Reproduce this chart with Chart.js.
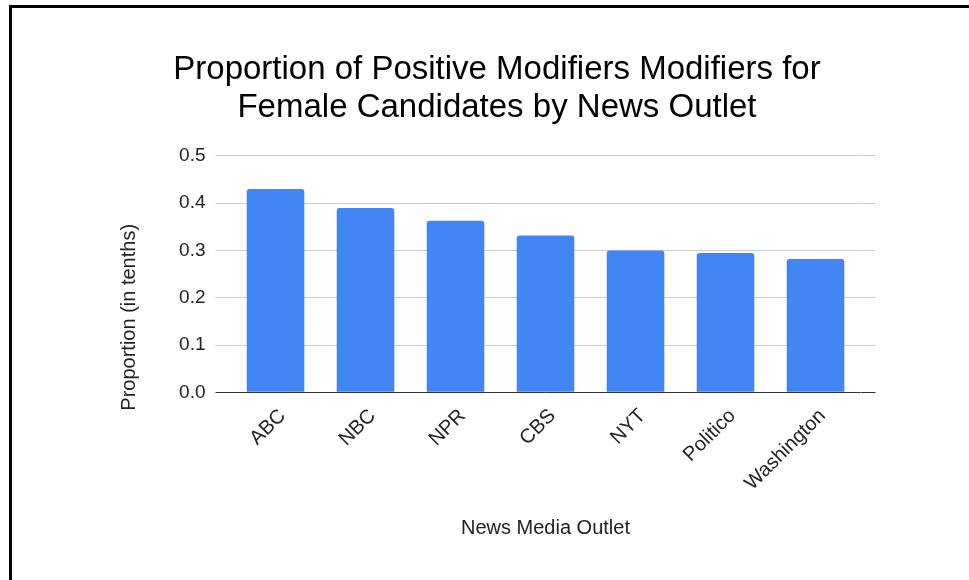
<!DOCTYPE html>
<html><head><meta charset="utf-8">
<script src="https://cdn.jsdelivr.net/npm/chart.js@4.4.0/dist/chart.umd.min.js"></script>
<style>
html,body{margin:0;padding:0;background:#fff;overflow:hidden;}
#wrap{position:absolute;left:0;top:0;width:969px;height:580px;overflow:hidden;}
#frame{position:absolute;left:9px;top:5px;width:980px;height:600px;border-left:3px solid #000;border-top:3px solid #000;box-sizing:border-box;pointer-events:none;}
canvas{position:absolute;left:0;top:0;}
</style></head><body>
<div id="wrap"><canvas id="c" width="969" height="580"></canvas><div id="frame"></div></div>
<script>
const categories = ['ABC', 'NBC', 'NPR', 'CBS', 'NYT', 'Politico', 'Washington'];
const proportions = [0.43, 0.39, 0.363, 0.332, 0.30, 0.295, 0.282];
const yTickValues = [0, 0.1, 0.2, 0.3, 0.4, 0.5];
const chartTitle = ['Proportion of Positive Modifiers Modifiers for', 'Female Candidates by News Outlet'];
const xTitle = 'News Media Outlet';
const yTitle = 'Proportion (in tenths)';

const FONT = '"Liberation Sans", Arial, sans-serif';
const gridColor = (ctx) => (ctx.tick && ctx.tick.value === 0) ? '#333333' : '#cccccc';
const setTicks = (scale) => { scale.ticks = yTickValues.map(v => ({ value: v })); };

const yTitlePlugin = {
  id: 'yTitleDraw',
  afterDraw(chart) {
    const { ctx, chartArea } = chart;
    ctx.save();
    ctx.font = '20px ' + FONT;
    ctx.fillStyle = '#222222';
    ctx.textAlign = 'center';
    ctx.textBaseline = 'middle';
    ctx.translate(chartArea.left - 101.5, chartArea.bottom - 75);
    ctx.rotate(-Math.PI / 2);
    ctx.fillText(yTitle, 0, 0);
    ctx.restore();
  }
};

new Chart(document.getElementById('c'), {
  type: 'bar',
  data: {
    labels: categories,
    datasets: [{
      label: 'Proportion',
      data: proportions,
      backgroundColor: '#4285F4',
      borderWidth: 0,
      borderRadius: 3,
      borderSkipped: 'start',
      barPercentage: 0.64,
      categoryPercentage: 1.0
    }]
  },
  options: {
    responsive: false,
    devicePixelRatio: 1,
    animation: false,
    layout: { padding: { left: 118.5, right: 93.5, top: 0, bottom: 0 } },
    plugins: {
      legend: { display: false },
      tooltip: { enabled: false },
      title: {
        display: true,
        text: chartTitle,
        color: '#000000',
        font: { family: FONT, size: 33, weight: 'normal', lineHeight: 1.1424 },
        padding: { top: 51, bottom: 29.6 }
      }
    },
    scales: {
      x: {
        grid: { display: false, drawTicks: false },
        border: { display: false },
        ticks: {
          color: '#222222',
          font: { family: FONT, size: 20 },
          minRotation: 45,
          maxRotation: 45,
          padding: 12,
          labelOffset: 7,
          autoSkip: false
        },
        title: {
          display: true,
          text: xTitle,
          color: '#222222',
          font: { family: FONT, size: 20, lineHeight: 1.2 },
          padding: { top: 0, bottom: 39.3 }
        },
        afterFit(scale) { scale.height = 187.7; }
      },
      y: {
        min: 0,
        max: 0.5,
        afterBuildTicks: setTicks,
        grid: { color: gridColor, tickColor: gridColor, tickLength: 15, lineWidth: 1 },
        border: { display: false },
        ticks: {
          color: '#222222',
          font: { family: FONT, size: 19 },
          padding: 10,
          callback: (v) => Number(v).toFixed(1)
        },
        afterFit(scale) { scale.width = 112; }
      },
      y2: {
        position: 'right',
        min: 0,
        max: 0.5,
        afterBuildTicks: setTicks,
        grid: { drawOnChartArea: false, color: gridColor, tickColor: gridColor, tickLength: 15, lineWidth: 1 },
        border: { display: false },
        ticks: { display: false },
        afterFit(scale) { scale.width = 15; }
      }
    }
  },
  plugins: [yTitlePlugin]
});
</script>
</body></html>
